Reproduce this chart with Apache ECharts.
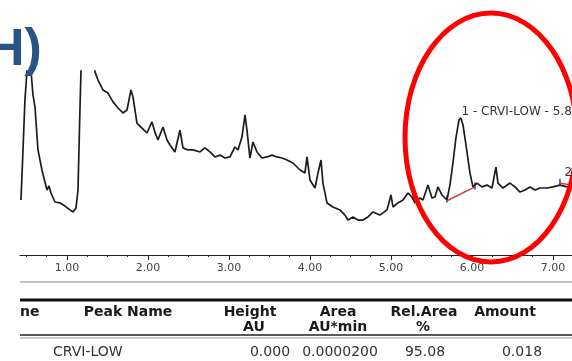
<!DOCTYPE html>
<html>
<head>
<meta charset="utf-8">
<title>CRVI-LOW chromatogram</title>
<script src="https://cdn.jsdelivr.net/npm/echarts@6.0.0/dist/echarts.min.js"></script>
<style>
html, body { margin: 0; padding: 0; background: #fff; }
#graph { width: 572px; height: 361px; }
</style>
</head>
<body>
<div id="graph"></div>
<script>
"use strict"

// trace: retention time (min) / signal (% of plotted height)
const retTime = [
    0.432, 0.457, 0.481, 0.506, 0.531, 0.556, 0.580, 0.605, 0.642, 0.691,
    0.753, 0.778, 0.802, 0.852, 0.914, 0.975, 1.037, 1.074, 1.111, 1.136,
    1.148, 1.160, 1.173, 1.210, 1.259, 1.309, 1.346, 1.383, 1.444, 1.506,
    1.568, 1.630, 1.691, 1.741, 1.790, 1.815, 1.864, 1.926, 1.988, 2.049,
    2.086, 2.123, 2.185, 2.235, 2.272, 2.333, 2.395, 2.432, 2.494, 2.556,
    2.642, 2.704, 2.765, 2.827, 2.889, 2.951, 3.012, 3.074, 3.111, 3.160,
    3.198, 3.222, 3.259, 3.296, 3.346, 3.407, 3.469, 3.531, 3.593, 3.654,
    3.716, 3.790, 3.877, 3.938, 3.963, 4.000, 4.062, 4.099, 4.136, 4.160,
    4.210, 4.284, 4.370, 4.432, 4.469, 4.531, 4.593, 4.654, 4.716, 4.778,
    4.864, 4.951, 5.000, 5.025, 5.086, 5.148, 5.210, 5.259, 5.296, 5.358,
    5.395, 5.457, 5.506, 5.543, 5.580, 5.630, 5.691, 5.728, 5.765, 5.802,
    5.840, 5.864, 5.889, 5.926, 5.975, 6.012, 6.062, 6.123, 6.185, 6.247,
    6.296, 6.321, 6.383, 6.469, 6.531, 6.593, 6.654, 6.716, 6.778, 6.840,
    6.926, 7.000, 7.086, 7.173, 7.235
];
const signal = [
    29.9, 57.1, 84.2, 100, 160, 100, 87.0, 80.4, 57.1, 46.2,
    35.3, 37.5, 33.7, 28.8, 28.3, 26.6, 24.5, 23.4, 25.5, 35.3,
    57.1, 78.8, 100, 171, 182, 150, 99.5, 95.1, 89.7, 88.0,
    83.2, 79.9, 77.2, 78.8, 89.7, 85.9, 71.7, 69.0, 66.3, 72.3,
    66.8, 62.5, 69.6, 62.5, 59.8, 56.0, 67.9, 58.2, 57.1, 57.1,
    56.0, 58.2, 56.0, 53.3, 54.3, 52.7, 53.3, 58.7, 57.1, 64.1,
    76.1, 67.9, 52.7, 61.4, 56.0, 52.7, 53.3, 54.3, 53.3, 52.7,
    51.6, 50.0, 46.2, 44.6, 53.3, 40.8, 36.4, 44.6, 51.6, 39.1,
    28.3, 26.1, 24.5, 21.7, 19.0, 20.7, 19.0, 19.0, 20.7, 23.4,
    21.7, 24.5, 32.6, 26.1, 28.3, 29.9, 33.7, 31.5, 28.3, 31.0,
    29.9, 38.0, 31.0, 31.5, 37.0, 32.6, 29.9, 38.0, 50.0, 63.6,
    73.4, 74.5, 70.7, 59.8, 44.6, 37.0, 39.1, 37.0, 38.0, 36.4,
    47.8, 39.1, 36.4, 39.1, 37.0, 34.2, 35.3, 37.0, 35.3, 36.4,
    36.4, 37.0, 38.0, 37.0, 38.0
];

// integration baselines and delimiters
const base1Time = [5.691, 6.037], base1Signal = [29.5, 37.0];
const base2Time = [7.086, 7.235], base2Signal = [39.0, 38.0];
const markTime = [5.691, 6.037, 7.086], markSignal = [30.5, 37.5, 39.5];

// peak annotations
const peakTime = [5.864, 7.16];
const peakSignal = [74.5, 38.5];
const peakLabel = ["1 - CRVI-LOW - 5.8", "2"];

const majorTicks = [1, 2, 3, 4, 5, 6, 7];
const minorTicks = [0.5, 0.75, 1.25, 1.5, 1.75, 2.25, 2.5, 2.75, 3.25, 3.5, 3.75,
    4.25, 4.5, 4.75, 5.25, 5.5, 5.75, 6.25, 6.5, 6.75, 7.25];

// peak table
const tableHead = ["ne", "Peak Name", "Height", "Area", "Rel.Area", "Amount"];
const tableUnit = ["", "", "AU", "AU*min", "%", ""];
const tableRow = ["", "CRVI-LOW", "0.000", "0.0000200", "95.08", "0.018"];

const zip = (a, b) => a.map((v, i) => [v, b[i]]);

const headX = [20, 128, 250, 338, 424, 505];
const unitX = [0, 0, 254, 338, 423, 0];
const rowX = [0, 53, 270, 340, 425, 522];

function tableGraphics()
{
    const out = [];
    const txt = (x, y, text, font, fill, align) => out.push({
        type: "text", x: x, y: y, z: 50,
        style: { text: text, font: font, fill: fill, align: align, verticalAlign: "middle" }
    });
    tableHead.forEach((t, i) => txt(headX[i], 312, t, "bold 14px 'DejaVu Sans'", "#1a1a1a", i === 0 ? "left" : "center"));
    tableUnit.forEach((t, i) => { if (t) txt(unitX[i], 327, t, "bold 14px 'DejaVu Sans'", "#1a1a1a", "center"); });
    tableRow.forEach((t, i) => { if (t) txt(rowX[i], 352, t, "14px 'DejaVu Sans'", "#333", i === 1 ? "left" : "center"); });
    const hline = (y, w, c) => out.push({
        type: "line", z: 50, shape: { x1: 20, y1: y, x2: 572, y2: y }, style: { stroke: c, lineWidth: w }
    });
    hline(282, 2, "#c4c4c4");
    hline(300, 3, "#111");
    hline(335, 1.5, "#222");
    hline(338, 1, "#999");
    return out;
}

const myChart = echarts.init(document.getElementById("graph"), null, { renderer: "canvas" });

const xMin = 0.42, xMax = 7.235;

const option = {
    animation: false,
    backgroundColor: "#fff",
    grid: { left: 20, right: 0, top: 71, bottom: 106 },
    xAxis: [{
        type: "value", min: xMin, max: xMax, position: "bottom",
        axisLine: { lineStyle: { color: "#222", width: 1.2 } },
        axisTick: { length: 5, customValues: majorTicks, lineStyle: { color: "#222" } },
        axisLabel: {
            customValues: majorTicks, margin: 8,
            fontSize: 11, fontFamily: "DejaVu Sans", color: "#444",
            formatter: v => v.toFixed(2)
        },
        splitLine: { show: false }
    }, {
        type: "value", min: xMin, max: xMax, position: "bottom",
        axisLine: { show: false },
        axisTick: { length: 2, customValues: minorTicks, lineStyle: { color: "#222" } },
        axisLabel: { show: false },
        splitLine: { show: false }
    }],
    yAxis: { type: "value", min: 0, max: 100, show: false },
    series: [
        {
            type: "line", data: zip(retTime, signal), showSymbol: false, clip: true,
            lineStyle: { color: "#1c1c1c", width: 1.7 },
            markPoint: {
                symbol: "circle", symbolSize: 1,
                itemStyle: { color: "rgba(0,0,0,0)" },
                label: {
                    show: true, formatter: p => p.name, color: "#333",
                    fontSize: 12, fontFamily: "DejaVu Sans", align: "left", verticalAlign: "middle"
                },
                data: peakLabel.map((n, i) => ({
                    name: n, coord: [peakTime[i], peakSignal[i]],
                    label: { position: i === 0 ? [1, -6] : [-1, -11] }
                }))
            }
        },
        { type: "line", data: zip(base1Time, base1Signal), showSymbol: false, lineStyle: { color: "#d03a4c", width: 1.5 } },
        { type: "line", data: zip(base2Time, base2Signal), showSymbol: false, lineStyle: { color: "#d03a4c", width: 1.5 } },
        {
            type: "scatter", data: zip(markTime, markSignal), symbol: "rect", symbolSize: [2, 7],
            itemStyle: { color: "#2a3fb0" }
        }
    ],
    graphic: [
        {
            type: "text", x: -13, y: 51, z: 60,
            style: { text: "H)", font: "bold 52px 'Liberation Sans'", fill: "#2b5486", verticalAlign: "middle" }
        },
        ...tableGraphics(),
        {
            type: "ellipse", z: 70,
            shape: { cx: 491, cy: 137.5, rx: 86, ry: 124.5 },
            style: { fill: "none", stroke: "#ff0000", lineWidth: 5 }
        }
    ]
};

myChart.setOption(option);
</script>
</body>
</html>
